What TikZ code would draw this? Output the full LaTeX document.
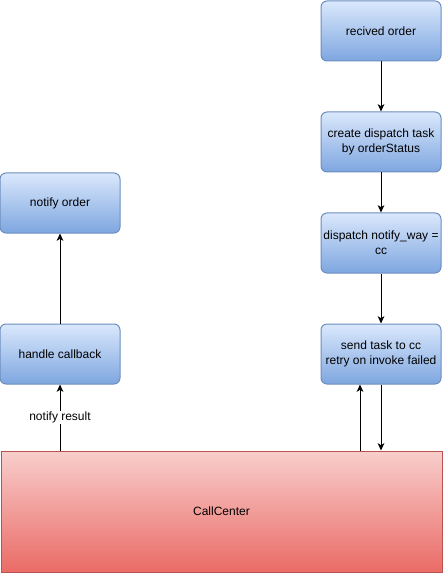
\documentclass[tikz,border=0pt]{standalone}
\usepackage{fontspec}
\setmainfont{Liberation Sans}
\usetikzlibrary{positioning,arrows.meta}
\definecolor{StepFill}{HTML}{DAE8FC}
\definecolor{StepShade}{HTML}{7EA6E0}
\definecolor{StepLine}{HTML}{6C8EBF}
\definecolor{CCFill}{HTML}{F8CECC}
\definecolor{CCShade}{HTML}{EA6B66}
\definecolor{CCLine}{HTML}{B85450}

\begin{document}
\begin{tikzpicture}[
  x=0.75pt, y=-0.75pt,
  font=\fontsize{9pt}{11pt}\selectfont,
  >={Stealth[length=5.5pt, width=5pt, inset=1.5pt]},
  stepbox/.style={draw=StepLine, line width=0.75pt, rounded corners=4.5pt,
    top color=StepFill, bottom color=StepShade, align=center,
    minimum width=90pt, minimum height=45pt, inner sep=1pt},
  ccbox/.style={draw=CCLine, line width=0.75pt,
    top color=CCFill, bottom color=CCShade, align=center,
    minimum width=330.75pt, minimum height=90.75pt},
  arr/.style={->, line width=0.75pt},
  lbl/.style={fill=white, inner sep=1pt},
]
\useasboundingbox (0,0) rectangle (443,573);

% ---- dispatch side (right column) ----
\node[stepbox] (recv) at (381,31) {recived order};
\node[stepbox, below=37.5pt of recv] (create) {create dispatch task\\ by orderStatus};
\node[stepbox, below=30pt of create] (way) {dispatch notify\_way =\\ cc};
\node[stepbox, below=37.5pt of way] (send) {send task to cc\\ retry on invoke failed};
\draw[arr] (recv) -- (create);
\draw[arr] (create) -- (way);
\draw[arr] (way) -- (send);

% ---- call center ----
\node[ccbox] (cc) at (221.5,511.5) {CallCenter};
\draw[arr] (send) -- (send.south |- cc.north);
\draw[arr] ([xshift=-15.75pt]send.south |- cc.north) -- ([xshift=-15.75pt]send.south);

% ---- callback side (left column) ----
\node[stepbox, left=150pt of send] (handle) {handle callback};
\node[stepbox, above=67.5pt of handle] (notify) {notify order};
\draw[arr] (handle.south |- cc.north) -- (handle)
      node[lbl, midway] {notify result};
\draw[arr] (handle) -- (notify);
\end{tikzpicture}
\end{document}
